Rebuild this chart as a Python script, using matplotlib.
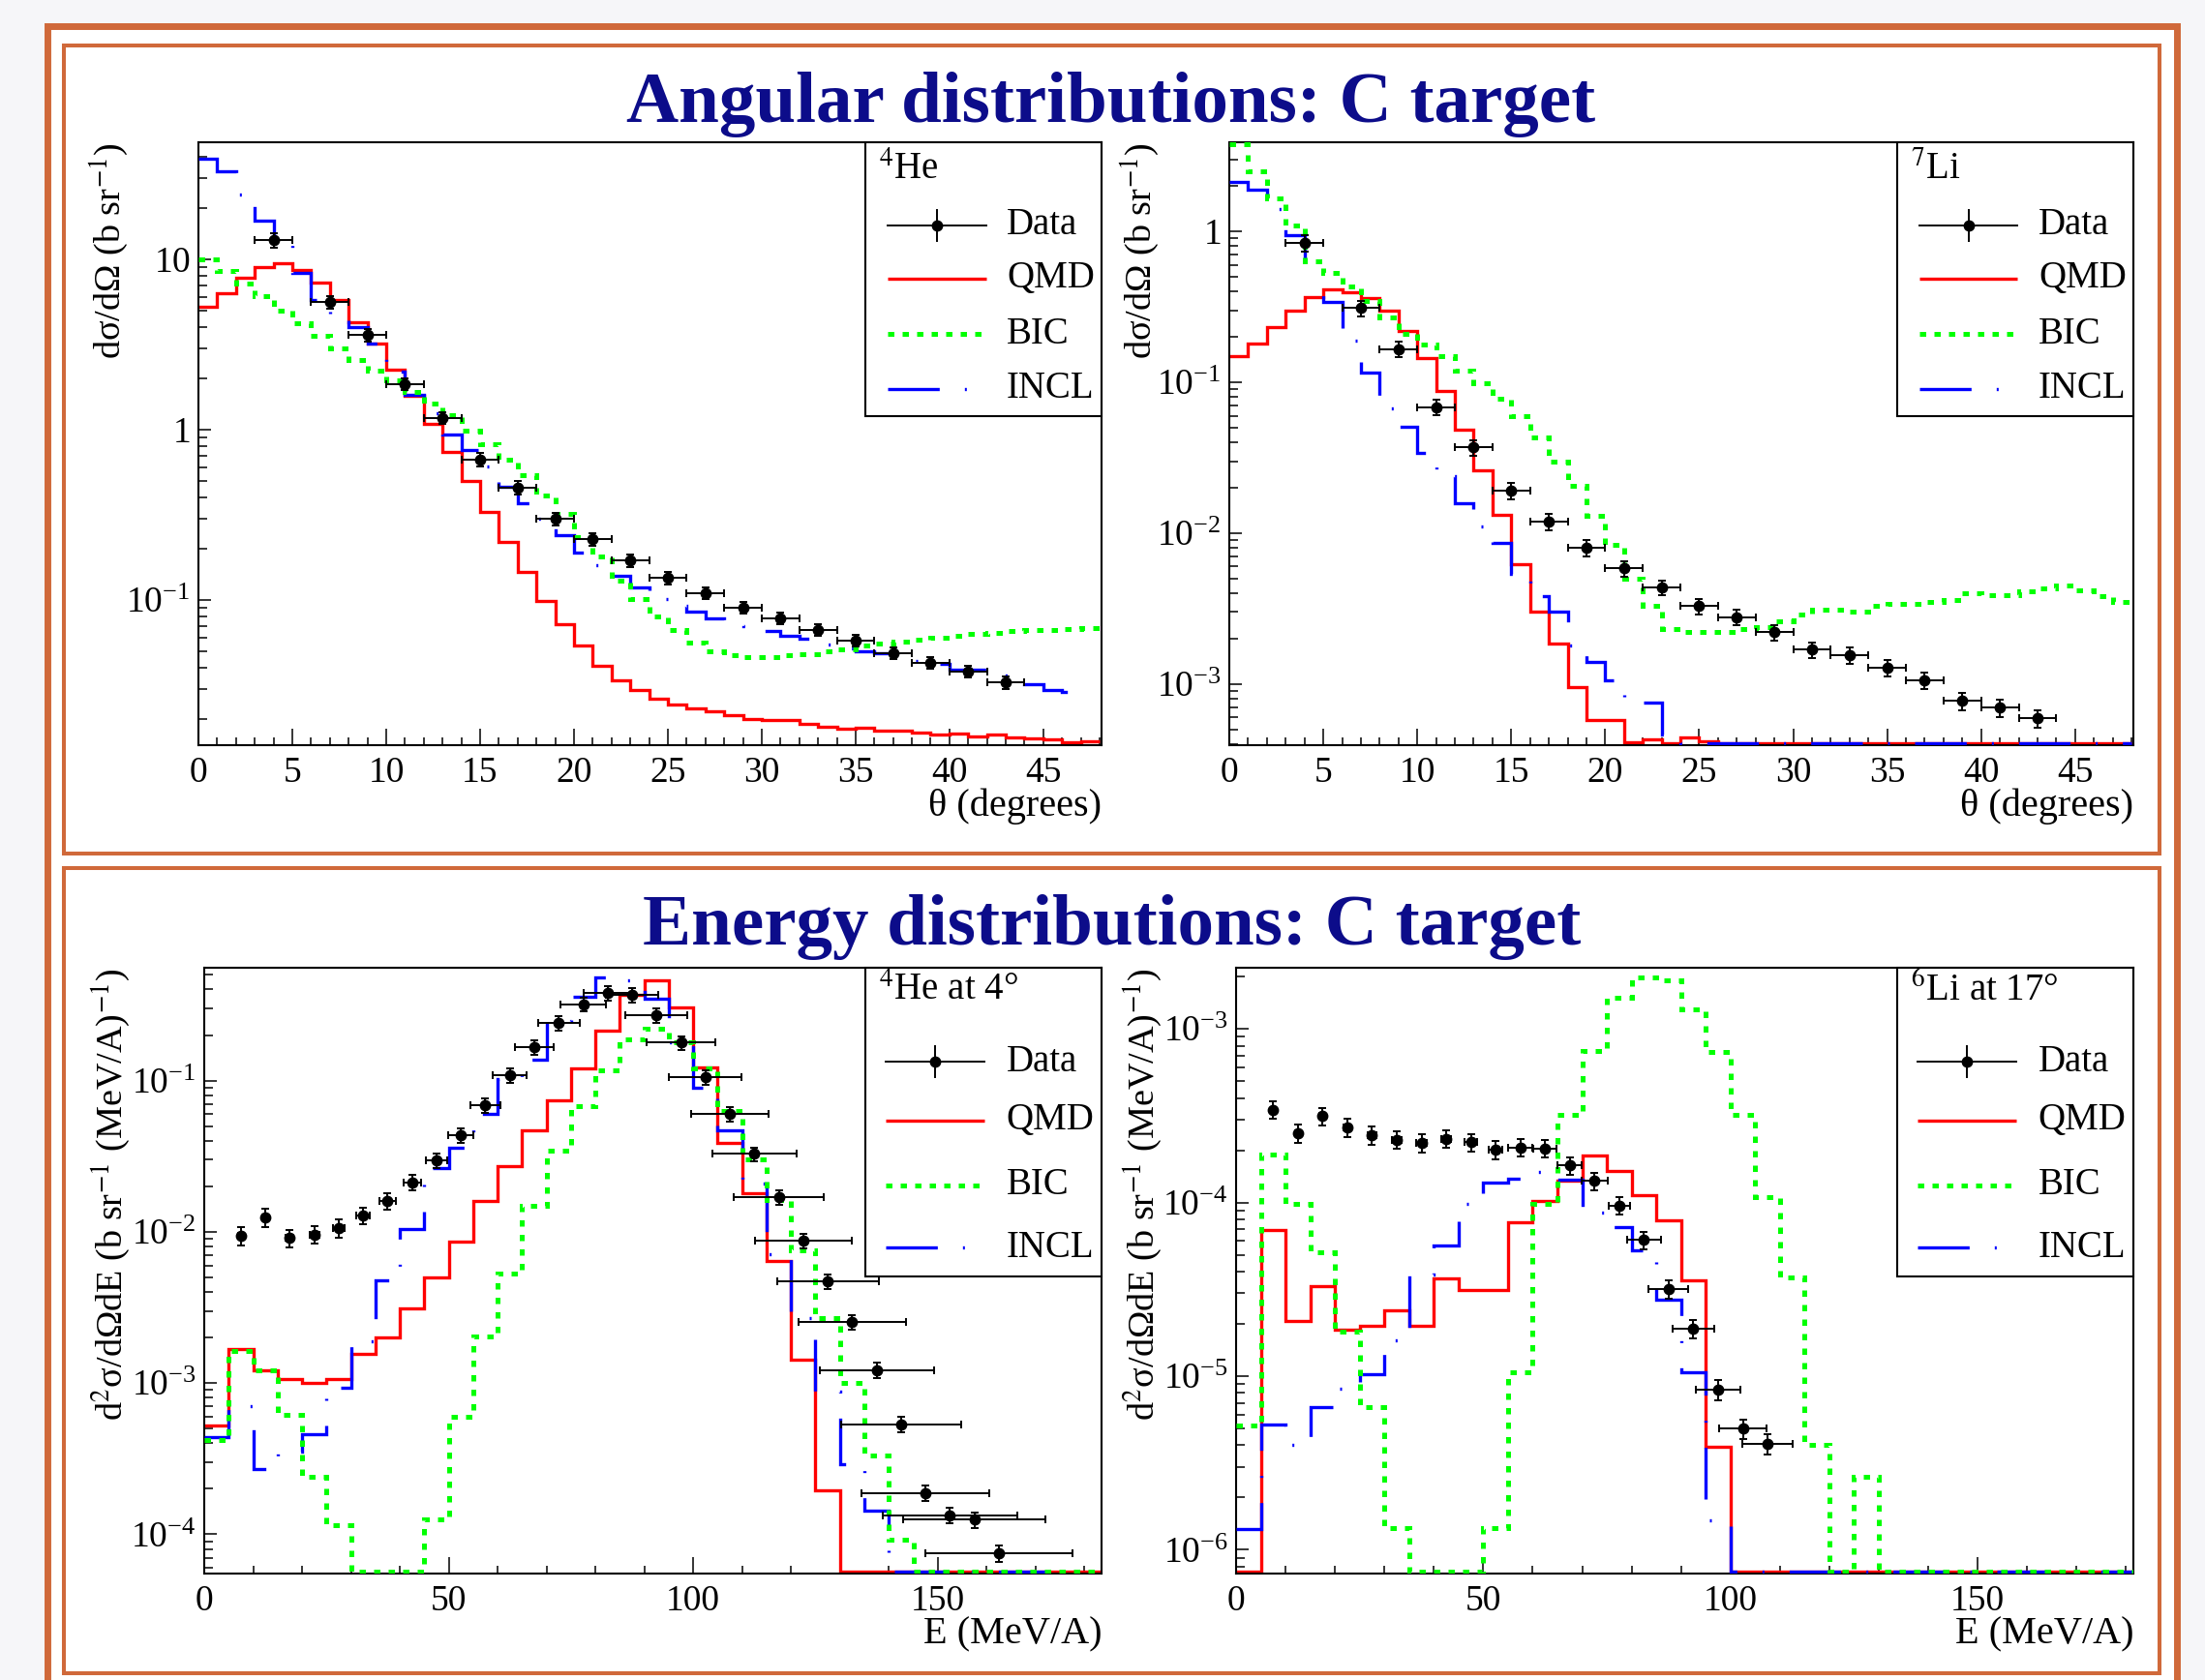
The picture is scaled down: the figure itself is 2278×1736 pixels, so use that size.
import numpy as np
import matplotlib
matplotlib.use('Agg')
import matplotlib.pyplot as plt
from matplotlib.patches import Rectangle
from matplotlib.ticker import MultipleLocator, LogLocator, FuncFormatter, NullFormatter

plt.rcParams['font.family'] = ['Liberation Serif', 'DejaVu Serif']
plt.rcParams['mathtext.fontset'] = 'stix'

W, H = 2278, 1736

# ---------------- data ----------------
# angular distributions: 1 degree bins from 0
ang_edges = np.arange(0, 49, 1.0)

he4_ang_qmd = [5.3, 6.3, 7.8, 9.05, 9.5, 8.7, 7.3, 5.8, 4.3, 3.2, 2.26, 1.59, 1.08, 0.74,
               0.50, 0.33, 0.218, 0.146, 0.099, 0.072, 0.054, 0.041, 0.034, 0.0297, 0.0265,
               0.0245, 0.0232, 0.0222, 0.0211, 0.0200, 0.0197, 0.0198, 0.0187, 0.0181, 0.0175,
               0.0179, 0.0170, 0.0170, 0.0167, 0.0162, 0.0164, 0.0158, 0.0162, 0.0157, 0.0155,
               0.0152, 0.0146, 0.0149]
he4_ang_bic = [10.0, 8.6, 7.2, 6.1, 5.0, 4.2, 3.55, 3.0, 2.57, 2.23, 1.95, 1.66, 1.43, 1.21,
               0.99, 0.82, 0.67, 0.54, 0.41, 0.32, 0.235, 0.18, 0.130, 0.101, 0.080, 0.0664,
               0.0566, 0.0499, 0.0474, 0.046, 0.046, 0.0474, 0.0483, 0.050, 0.0515, 0.054,
               0.0555, 0.0573, 0.0585, 0.060, 0.062, 0.063, 0.0645, 0.0655, 0.0664, 0.067,
               0.068, 0.0684]
he4_ang_incl = [39, 33, 24, 16.8, 12.5, 8.3, 5.8, 4.7, 4.0, 3.2, 2.2, 1.6, 1.25, 0.94, 0.76,
                0.61, 0.46, 0.37, 0.30, 0.24, 0.19, 0.16, 0.138, 0.119, 0.101, 0.093, 0.085,
                0.078, 0.072, 0.070, 0.066, 0.062, 0.059, 0.055, 0.052, 0.050, 0.049, 0.046,
                0.044, 0.042, 0.039, 0.039, 0.036, 0.034, 0.032, 0.0295, 0.0287]

ang_data_x = [4, 7, 9, 11, 13, 15, 17, 19, 21, 23, 25, 27, 29, 31, 33, 35, 37, 39, 41, 43]
ang_data_xerr = [1, 1, 1, 1, 1, 1, 1, 1, 1, 1, 1, 1, 1, 1, 1, 1, 1, 1, 1, 1]
he4_ang_data = [13, 5.6, 3.6, 1.85, 1.17, 0.67, 0.457, 0.30, 0.227, 0.17, 0.135, 0.11, 0.090,
                0.078, 0.067, 0.058, 0.049, 0.043, 0.038, 0.033]
he4_ang_err = [1.3, 0.5, 0.3, 0.14, 0.09, 0.06, 0.04, 0.025, 0.02, 0.014, 0.011, 0.009, 0.007,
               0.006, 0.005, 0.0045, 0.004, 0.0035, 0.003, 0.0028]

li7_ang_qmd = [0.148, 0.181, 0.231, 0.299, 0.366, 0.412, 0.395, 0.363, 0.297, 0.22, 0.145,
               0.0875, 0.0484, 0.0262, 0.0133, 0.0062, 0.0030, 0.00185, 0.00095, 0.000576,
               0.00058, 0.00041, 0.00043, 0, 0.00044, 0.00042,
               0, 0, 0, 0, 0, 0, 0, 0, 0, 0, 0, 0, 0, 0, 0, 0, 0, 0, 0, 0, 0, 0]
li7_ang_bic = [3.8, 2.5, 1.66, 1.1, 0.63, 0.53, 0.43, 0.346, 0.27, 0.21, 0.178, 0.15, 0.12,
               0.098, 0.078, 0.060, 0.043, 0.030, 0.0205, 0.013, 0.0084, 0.0050, 0.0033,
               0.0023, 0.0022, 0.0022, 0.0022, 0.0023, 0.0024, 0.0026, 0.0029, 0.0031, 0.0031,
               0.0030, 0.0033, 0.0034, 0.0034, 0.0035, 0.0036, 0.0040, 0.0039, 0.0039, 0.0041,
               0.0043, 0.0045, 0.0042, 0.0038, 0.0035]
li7_ang_incl = [2.12, 1.9, 1.4, 0.95, 0.55, 0.34, 0.19, 0.116, 0.067, 0.051, 0.034, 0.0237,
                0.0159, 0.011, 0.0086, 0.0054, 0.0038, 0.0030, 0.0018, 0.0014, 0.00106,
                0.00077, 0.00075, 0.00046,
                0, 0, 0, 0, 0, 0, 0, 0, 0, 0, 0, 0, 0, 0, 0, 0, 0, 0, 0, 0, 0, 0, 0, 0]
li7_ang_data = [0.84, 0.31, 0.166, 0.0686, 0.037, 0.0191, 0.012, 0.0080, 0.00585, 0.00436,
                0.00328, 0.00277, 0.0022, 0.00169, 0.00155, 0.00129, 0.00106, 0.00077,
                0.000695, 0.000593]
li7_ang_err = [0.1, 0.035, 0.02, 0.008, 0.0045, 0.0024, 0.0015, 0.0010, 0.0007, 0.0005, 0.0004,
               0.00033, 0.00027, 0.0002, 0.00019, 0.00016, 0.00013, 0.0001, 0.00009, 0.00008]

# energy distributions: 5 MeV/A bins from 0
en_edges = np.arange(0, 190, 5.0)

he4_en_qmd = [5.25e-4, 1.67e-3, 1.22e-3, 1.07e-3, 1.0e-3, 1.07e-3, 1.56e-3, 2.0e-3, 3.11e-3,
              4.96e-3, 8.57e-3, 0.0161, 0.0271, 0.0466, 0.0743, 0.12, 0.215, 0.367, 0.458,
              0.303, 0.122, 0.0388, 0.018, 6.4e-3, 1.43e-3, 1.94e-4,
              0, 0, 0, 0, 0, 0, 0, 0, 0, 0, 0]
he4_en_bic = [4.2e-4, 1.63e-3, 1.22e-3, 6.2e-4, 2.4e-4, 1.15e-4, 0, 0, 0, 1.25e-4, 6.0e-4,
              2.04e-3, 5.3e-3, 0.0149, 0.0343, 0.0675, 0.116, 0.186, 0.22, 0.18, 0.12, 0.063,
              0.030, 0.0163, 7.5e-3, 2.7e-3, 1.0e-3, 3.3e-4, 9.2e-5,
              0, 0, 0, 0, 0, 0, 0, 0]
he4_en_incl = [4.4e-4, 7.0e-4, 2.7e-4, 3.5e-4, 4.6e-4, 9.3e-4, 1.9e-3, 4.8e-3, 0.0105, 0.0264,
               0.036, 0.060, 0.103, 0.137, 0.248, 0.36, 0.48, 0.46, 0.35, 0.18, 0.09, 0.047,
               0.0207, 7.1e-3, 2.7e-3, 8.8e-4, 2.9e-4, 1.43e-4,
               0, 0, 0, 0, 0, 0, 0, 0, 0]
he4_en_x = [7.5, 12.5, 17.5, 22.5, 27.5, 32.5, 37.5, 42.5, 47.5, 52.5, 57.5, 62.5, 67.5, 72.5,
            77.5, 82.5, 87.5, 92.5, 97.5, 102.5, 107.5, 112.5, 117.5, 122.5, 127.5, 132.5,
            137.5, 142.5, 147.5, 152.5, 157.5, 162.5]
he4_en_xerr = [0.6, 0.6, 0.8, 1.0, 1.2, 1.4, 1.6, 1.8, 2.2, 2.6, 3.0, 3.5, 3.9, 4.3, 4.7, 5.0,
               5.4, 6.3, 7.0, 7.4, 8.0, 8.6, 9.2, 9.9, 10.4, 11.0, 11.7, 12.3, 13.0, 13.7,
               14.5, 15.0]
he4_en_data = [9.4e-3, 0.0125, 9.1e-3, 9.6e-3, 0.0106, 0.0129, 0.016, 0.0212, 0.0296, 0.0435,
               0.0685, 0.108, 0.166, 0.239, 0.32, 0.379, 0.367, 0.27, 0.178, 0.105, 0.0602,
               0.0327, 0.0169, 8.7e-3, 4.73e-3, 2.54e-3, 1.22e-3, 5.35e-4, 1.87e-4, 1.34e-4,
               1.25e-4, 7.5e-5]
he4_en_err = [1.3e-3, 1.7e-3, 1.2e-3, 1.3e-3, 1.4e-3, 1.6e-3, 2.0e-3, 2.5e-3, 3.4e-3, 4.8e-3,
              7.5e-3, 0.012, 0.018, 0.026, 0.035, 0.04, 0.04, 0.03, 0.019, 0.011, 6.5e-3,
              3.5e-3, 1.8e-3, 9.5e-4, 5.2e-4, 2.8e-4, 1.4e-4, 6e-5, 2.2e-5, 1.6e-5, 1.5e-5, 9e-6]

li6_en_qmd = [0, 6.97e-5, 2.09e-5, 3.3e-5, 1.86e-5, 1.95e-5, 2.39e-5, 1.95e-5, 3.67e-5,
              3.15e-5, 3.15e-5, 7.74e-5, 1.02e-4, 1.34e-4, 1.87e-4, 1.52e-4, 1.1e-4, 7.9e-5,
              3.55e-5, 3.94e-6,
              0, 0, 0, 0, 0, 0, 0, 0, 0, 0, 0, 0, 0, 0, 0, 0, 0]
li6_en_bic = [5.2e-6, 1.9e-4, 9.8e-5, 5.2e-5, 1.8e-5, 6.6e-6, 1.34e-6, 0, 0, 0, 1.34e-6,
              1.05e-5, 9.8e-5, 3.18e-4, 7.45e-4, 1.51e-3, 1.97e-3, 1.91e-3, 1.3e-3, 7.4e-4,
              3.18e-4, 1.07e-4, 3.7e-5, 4.0e-6, 0, 2.64e-6,
              0, 0, 0, 0, 0, 0, 0, 0, 0, 0, 0]
li6_en_incl = [1.32e-6, 5.25e-6, 4.0e-6, 6.6e-6, 8.5e-6, 1.03e-5, 1.6e-5, 3.83e-5, 5.68e-5,
               9.8e-5, 1.3e-4, 1.37e-4, 1.5e-4, 1.35e-4, 8.7e-5, 7.2e-5, 5.3e-5, 2.77e-5,
               1.05e-5, 1.48e-6,
               0, 0, 0, 0, 0, 0, 0, 0, 0, 0, 0, 0, 0, 0, 0, 0, 0]
li6_en_x = [7.5, 12.5, 17.5, 22.5, 27.5, 32.5, 37.5, 42.5, 47.5, 52.5, 57.5, 62.5, 67.5, 72.5,
            77.5, 82.5, 87.5, 92.5, 97.5, 102.5, 107.5]
li6_en_xerr = [0.5, 0.5, 0.6, 0.7, 0.8, 0.9, 1.0, 1.0, 1.2, 1.4, 2.4, 2.4, 2.4, 2.6, 2.2, 3.4,
               4.0, 4.2, 4.5, 4.8, 5.1]
li6_en_data = [3.42e-4, 2.51e-4, 3.14e-4, 2.7e-4, 2.44e-4, 2.3e-4, 2.21e-4, 2.33e-4, 2.22e-4,
               2.02e-4, 2.08e-4, 2.05e-4, 1.64e-4, 1.33e-4, 9.6e-5, 6.1e-5, 3.19e-5, 1.87e-5,
               8.4e-6, 4.98e-6, 4.1e-6]
li6_en_err = [4e-5, 3e-5, 3.7e-5, 3.2e-5, 2.9e-5, 2.7e-5, 2.6e-5, 2.7e-5, 2.6e-5, 2.4e-5,
              2.4e-5, 2.4e-5, 1.9e-5, 1.6e-5, 1.1e-5, 7e-6, 3.8e-6, 2.3e-6, 1.1e-6, 6.5e-7, 5.5e-7]

# ---------------- styles ----------------
ORANGE = '#d0693a'
NAVY = '#0c0c8a'
qmd_style = dict(color='#ff0000', lw=2.4)
bic_style = dict(color='#00ff00', lw=3.6, linestyle=(0, (1.3, 1.7)))
incl_style = dict(color='#0000ff', lw=2.4, linestyle=(0, (16, 7.8, 0.6, 7.8)))
KEY_FS = 28

fig = plt.figure(figsize=(W / 100, H / 100), dpi=100)
fig.patch.set_facecolor('#f6f6f9')


def px_rect(x0, y0, x1, y1):
    # pixel box (y measured from the top) -> figure fraction
    return [x0 / W, 1 - y1 / H, (x1 - x0) / W, (y1 - y0) / H]


# orange frames
r = px_rect(48.5, 26.5, 2248.5, 1760)
fig.add_artist(Rectangle((r[0], r[1]), r[2], r[3], transform=fig.transFigure,
                         facecolor='white', edgecolor=ORANGE, lw=5.0, zorder=-3))
for y0, y1 in [(47, 881.5), (896.5, 1729)]:
    r = px_rect(66, y0, 2231, y1)
    fig.add_artist(Rectangle((r[0], r[1]), r[2], r[3], transform=fig.transFigure,
                             facecolor='none', edgecolor=ORANGE, lw=2.9, zorder=-2))

fig.text(1148 / W, 1 - 126 / H, 'Angular distributions: C target', ha='center',
         va='baseline', fontsize=54, fontweight='bold', color=NAVY)
fig.text(1149 / W, 1 - 976 / H, 'Energy distributions: C target', ha='center',
         va='baseline', fontsize=54, fontweight='bold', color=NAVY)


def log_label(v, pos):
    e = int(round(np.log10(v)))
    if e == 0:
        return r'$\mathdefault{1}$'
    if e == 1:
        return r'$\mathdefault{10}$'
    return r'$\mathdefault{10^{%d}}$' % e


def draw_key(ax, header, lay, h_px):
    bx, by = lay['box']
    ax.add_patch(Rectangle((bx, by), 1 - bx, 1 - by, transform=ax.transAxes,
                           facecolor='white', edgecolor='black', lw=1.5, zorder=10,
                           clip_on=False))
    ax.text(lay['head'][0], lay['head'][1], header, transform=ax.transAxes, fontsize=KEY_FS,
            va='center', ha='left', zorder=11)
    sx0, sx1 = lay['sample']
    ys = lay['rows']
    kw = dict(transform=ax.transAxes, clip_on=False, zorder=11)
    # Data entry
    xm = 0.5 * (sx0 + sx1)
    dy = 16 / h_px
    ax.plot([sx0, sx1], [ys[0], ys[0]], color='black', lw=1.4, **kw)
    ax.plot([xm, xm], [ys[0] - dy, ys[0] + dy], color='black', lw=1.4, **kw)
    ax.plot([xm], [ys[0]], 'o', color='black', ms=7.5, **kw)
    ax.plot([sx0, sx1], [ys[1], ys[1]], solid_capstyle='butt', **qmd_style, **kw)
    ax.plot([sx0, sx1], [ys[2], ys[2]], dash_capstyle='butt', **bic_style, **kw)
    ax.plot([sx0, sx1], [ys[3], ys[3]], dash_capstyle='butt', **incl_style, **kw)
    for y, lab in zip(ys, ['Data', 'QMD', 'BIC', 'INCL']):
        ax.text(lay['text'], y, lab, transform=ax.transAxes, fontsize=KEY_FS, va='center',
                ha='left', zorder=11)


def draw_panel(box, edges, qmd, bic, incl, dx, dxerr, dy, dyerr, xlim, ylim, major, minor,
               xlabel, ylabel, header, lay, ylab_off):
    x0, y0, x1, y1 = box
    ax = fig.add_axes(px_rect(x0, y0, x1, y1))
    ax.set_yscale('log')
    ax.set_xlim(*xlim)
    ax.set_ylim(*ylim)
    floor = ylim[0] * 1.025  # empty bins sit on the frame, as in ROOT
    for vals, st, z in [(qmd, qmd_style, 2), (incl, incl_style, 3), (bic, bic_style, 4)]:
        v = np.asarray(vals, float)
        v = np.where(v > 0, v, floor)
        ax.stairs(v, edges[:len(v) + 1], baseline=None, zorder=z, **st)
    ax.errorbar(dx, dy, xerr=dxerr, yerr=dyerr, fmt='o', color='black', ms=7.5,
                elinewidth=1.4, capsize=3, capthick=1.4, zorder=6)

    ax.xaxis.set_major_locator(MultipleLocator(major))
    ax.xaxis.set_minor_locator(MultipleLocator(minor))
    ax.xaxis.set_major_formatter(FuncFormatter(lambda v, p: '%g' % v))
    ax.yaxis.set_major_locator(LogLocator(base=10, numticks=20))
    ax.yaxis.set_minor_locator(LogLocator(base=10, subs=np.arange(2, 10), numticks=20))
    ax.yaxis.set_major_formatter(FuncFormatter(log_label))
    ax.yaxis.set_minor_formatter(NullFormatter())
    ax.tick_params(which='both', direction='in', top=False, right=False, width=1.1,
                   labelsize=27, pad=8)
    ax.tick_params(axis='y', which='major', pad=6)
    ax.tick_params(axis='x', which='major', length=12.5)
    ax.tick_params(axis='x', which='minor', length=6)
    ax.tick_params(axis='y', which='major', length=9.5)
    ax.tick_params(axis='y', which='minor', length=6.5)
    for s in ax.spines.values():
        s.set_linewidth(1.5)

    fig.text(x1 / W, 1 - (y1 + 44) / H, xlabel, ha='right', va='top', fontsize=29)
    fig.text((x0 - ylab_off) / W, 1 - y0 / H, ylabel, ha='center', va='top', rotation=90,
             fontsize=27.5)
    draw_key(ax, header, lay, y1 - y0)
    return ax


top_lay = dict(box=(0.7385, 0.5457), head=(0.7535, 0.955), rows=[0.862, 0.774, 0.682, 0.591],
               sample=(0.763, 0.872), text=0.895)
bot_lay = dict(box=(0.7365, 0.49), head=(0.752, 0.962), rows=[0.845, 0.748, 0.641, 0.538],
               sample=(0.7594, 0.8695), text=0.894)

ang_ylabel = r'dσ/dΩ (b sr$^{-1}$)'
en_ylabel = r'd$^{2}$σ/dΩdE (b sr$^{-1}$ (MeV/A)$^{-1}$)'

draw_panel((205, 147, 1138, 770), ang_edges, he4_ang_qmd, he4_ang_bic, he4_ang_incl,
           ang_data_x, ang_data_xerr, he4_ang_data, he4_ang_err, (0, 48.1), (0.01406, 48.7),
           5, 1, 'θ (degrees)', ang_ylabel, r'${}^{4}$He', top_lay, 92)
draw_panel((1270, 147, 2204, 770), ang_edges, li7_ang_qmd, li7_ang_bic, li7_ang_incl,
           ang_data_x, ang_data_xerr, li7_ang_data, li7_ang_err, (0, 48.1), (3.93e-4, 3.9),
           5, 1, 'θ (degrees)', ang_ylabel, r'${}^{7}$Li', top_lay, 92)
draw_panel((211, 1000, 1138, 1626), en_edges, he4_en_qmd, he4_en_bic, he4_en_incl,
           he4_en_x, he4_en_xerr, he4_en_data, he4_en_err, (0, 183.5), (5.5e-5, 0.557),
           50, 10, 'E (MeV/A)', en_ylabel, r'${}^{4}$He at 4°', bot_lay, 96)
draw_panel((1277, 1000, 2204, 1626), en_edges, li6_en_qmd, li6_en_bic, li6_en_incl,
           li6_en_x, li6_en_xerr, li6_en_data, li6_en_err, (0, 181.5), (7.3e-7, 2.25e-3),
           50, 10, 'E (MeV/A)', en_ylabel, r'${}^{6}$Li at 17°', bot_lay, 96)

fig.savefig('out.png', dpi=100, facecolor=fig.get_facecolor())
